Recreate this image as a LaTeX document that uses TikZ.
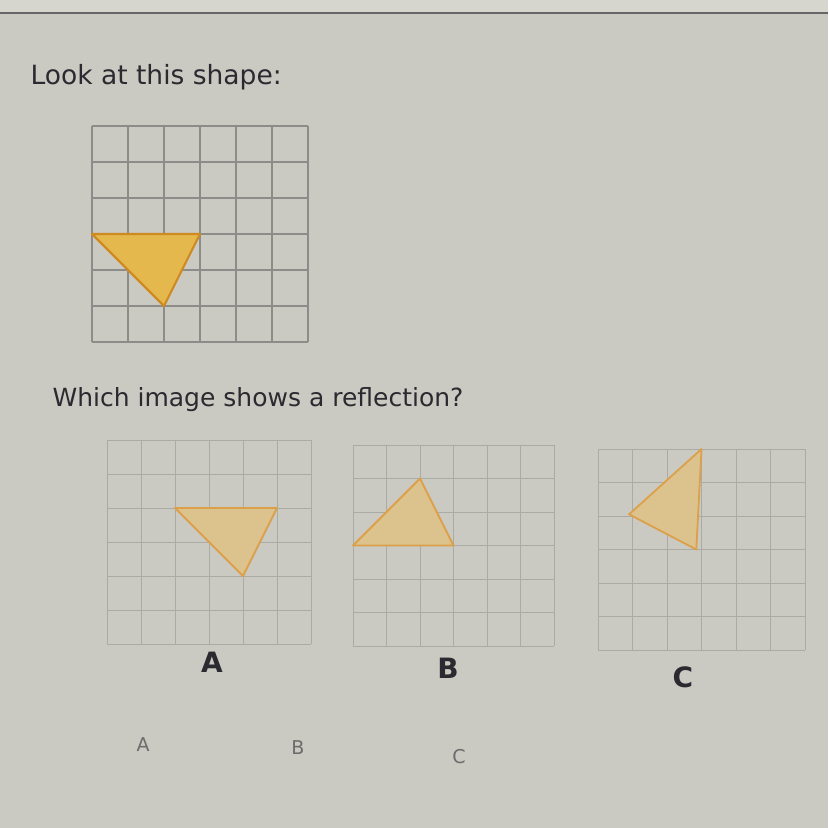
\documentclass[tikz,border=0pt]{standalone}
\usepackage{fontspec}
\setmainfont{DejaVu Sans}
\begin{document}
\begin{tikzpicture}[x=1pt,y=-1pt]
\definecolor{bg}{HTML}{CACAC2}
\definecolor{topband}{HTML}{D6D6CE}
\definecolor{gridmain}{HTML}{8C8C88}
\definecolor{gridopt}{HTML}{ABABA6}
\definecolor{triedge}{HTML}{D08A22}
\definecolor{trifill}{HTML}{E4B84C}
\definecolor{optedge}{HTML}{DDA04A}
\definecolor{optfill}{HTML}{DCC28C}
\definecolor{txt}{HTML}{2A2A30}
\tikzset{
  maingrid/.style={draw=gridmain, line width=1.3pt},
  optgrid/.style={draw=gridopt, line width=1pt},
  maintri/.style={draw=triedge, fill=trifill, line width=2.2pt, line join=round},
  opttri/.style={draw=optedge, fill=optfill, line width=1.8pt, line join=round},
  question/.style={anchor=base west, text=txt},
  biglabel/.style={text=txt, font=\fontsize{28}{32}\selectfont\bfseries},
  smalllabel/.style={text=gray!85!black, font=\fontsize{19}{22}\selectfont},
}
\useasboundingbox (0,0) rectangle (828,828);
\fill[bg] (0,0) rectangle (828,828);
\fill[topband] (0,0) rectangle (828,13);
\draw[line width=1.5pt, color=black!60] (0,13) -- (828,13);

\node[question, font=\fontsize{26.5}{30}\selectfont] (title) at (27,84) {Look at this shape:};

% main grid
\begin{scope}[shift={(92,126)}, x=36pt, y=-36pt]
  \foreach \i in {0,...,6} {
    \draw[maingrid] (\i,0) -- (\i,6);
    \draw[maingrid] (0,\i) -- (6,\i);
  }
  \draw[maintri] (0,3) -- (3,3) -- (2,5) -- cycle;
\end{scope}

\node[question, font=\fontsize{25}{29}\selectfont] (ask) at (49,406) {Which image shows a reflection?};

% option A
\begin{scope}[shift={(107,440)}, x=34pt, y=-34pt]
  \foreach \i in {0,...,6} {
    \draw[optgrid] (\i,0) -- (\i,6);
    \draw[optgrid] (0,\i) -- (6,\i);
  }
  \draw[opttri] (2,2) -- (5,2) -- (4,4) -- cycle;
\end{scope}
% option B
\begin{scope}[shift={(353,445)}, x=33.5pt, y=-33.5pt]
  \foreach \i in {0,...,6} {
    \draw[optgrid] (\i,0) -- (\i,6);
    \draw[optgrid] (0,\i) -- (6,\i);
  }
  \draw[opttri] (0,3) -- (3,3) -- (2,1) -- cycle;
\end{scope}
% option C
\begin{scope}[shift={(598,449)}, x=34.5pt, y=-33.5pt]
  \foreach \i in {0,...,6} {
    \draw[optgrid] (\i,0) -- (\i,6);
    \draw[optgrid] (0,\i) -- (6,\i);
  }
  \draw[opttri] (3,0) -- (2.85,3) -- (0.9,1.95) -- cycle;
\end{scope}

\node[biglabel] (la) at (212,662) {A};
\node[biglabel] (lb) at (448,668) {B};
\node[biglabel] (lc) at (683,677) {C};

\node[smalllabel] (sa) at (143,745) {A};
\node[smalllabel] (sb) at (298,748) {B};
\node[smalllabel] (sc) at (459,757) {C};
\end{tikzpicture}
\end{document}
